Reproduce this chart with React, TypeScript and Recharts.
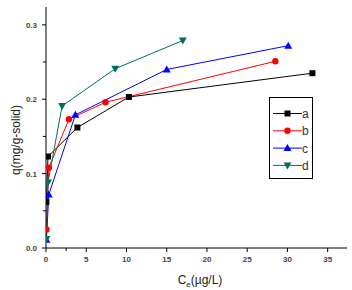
import React from 'react';
import { LineChart, Line, XAxis, YAxis, Label } from 'recharts';

type Pt = { x: number; y: number };

// equilibrium concentration (µg/L) vs uptake q (mg/g-solid)
const seriesA: Pt[] = [
  { x: 0.05, y: 0.062 },
  { x: 0.25, y: 0.123 },
  { x: 3.9, y: 0.162 },
  { x: 10.3, y: 0.203 },
  { x: 33.1, y: 0.235 },
];
const seriesB: Pt[] = [
  { x: 0.05, y: 0.025 },
  { x: 0.35, y: 0.108 },
  { x: 2.85, y: 0.173 },
  { x: 7.4, y: 0.196 },
  { x: 28.5, y: 0.251 },
];
const seriesC: Pt[] = [
  { x: 0.05, y: 0.011 },
  { x: 0.35, y: 0.072 },
  { x: 3.65, y: 0.179 },
  { x: 15.0, y: 0.24 },
  { x: 30.1, y: 0.272 },
];
const seriesD: Pt[] = [
  { x: 0.05, y: 0.012 },
  { x: 0.25, y: 0.088 },
  { x: 2.0, y: 0.191 },
  { x: 8.6, y: 0.241 },
  { x: 17.0, y: 0.279 },
];

const xTicks = [0, 2.5, 5, 7.5, 10, 12.5, 15, 17.5, 20, 22.5, 25, 27.5, 30, 32.5, 35];
const yTicks = [0, 0.05, 0.1, 0.15, 0.2, 0.25, 0.3];

type Kind = 'square' | 'circle' | 'up' | 'down';

const SERIES: { key: string; name: string; data: Pt[]; color: string; kind: Kind }[] = [
  { key: 'a', name: 'a', data: seriesA, color: '#000000', kind: 'square' },
  { key: 'b', name: 'b', data: seriesB, color: '#ff0000', kind: 'circle' },
  { key: 'c', name: 'c', data: seriesC, color: '#0000ff', kind: 'up' },
  { key: 'd', name: 'd', data: seriesD, color: '#00705e', kind: 'down' },
];

const FONT = 'Arial, "Liberation Sans", sans-serif';

const Marker = ({ cx, cy, kind, color }: { cx: number; cy: number; kind: Kind; color: string }) => {
  if (kind === 'square') return <rect x={cx - 3} y={cy - 3} width={6} height={6} fill={color} />;
  if (kind === 'circle') return <circle cx={cx} cy={cy} r={3.2} fill={color} />;
  if (kind === 'up')
    return <polygon points={`${cx},${cy - 4} ${cx - 4},${cy + 3} ${cx + 4},${cy + 3}`} fill={color} />;
  return <polygon points={`${cx},${cy + 4} ${cx - 4},${cy - 3} ${cx + 4},${cy - 3}`} fill={color} />;
};

const tickFont = { fontFamily: FONT, fontSize: 8, fontWeight: 700, fill: '#444' };

// major ticks every 5 with labels, unlabeled minor ticks halfway
const XTick = (props: any) => {
  const { x, y, payload } = props;
  const major = payload.value % 5 === 0;
  return (
    <g>
      <line x1={x} y1={y - 8} x2={x} y2={y - 8 + (major ? 4 : 3)} stroke="#000" />
      {major && (
        <text x={x} y={y + 6} textAnchor="middle" {...tickFont}>
          {payload.value}
        </text>
      )}
    </g>
  );
};

const YTick = (props: any) => {
  const { x, y, payload } = props;
  const major = Math.round(payload.value * 100) % 10 === 0;
  return (
    <g>
      <line x1={x + 8} y1={y} x2={x + 8 - (major ? 4 : 3)} y2={y} stroke="#000" />
      {major && (
        <text x={x - 1} y={y + 3} textAnchor="end" {...tickFont}>
          {payload.value.toFixed(1)}
        </text>
      )}
    </g>
  );
};

const LegendBox = () => (
  <div
    style={{
      position: 'absolute',
      left: 269,
      top: 97,
      border: '1px solid #000',
      width: 44,
      height: 82,
      boxSizing: 'border-box',
      background: '#fff',
    }}
  >
    <svg width={42} height={80} style={{ display: 'block' }}>
      {SERIES.map((s, i) => {
        const cy = 15.5 + i * 17.3;
        return (
          <g key={s.key}>
            <line x1={3} y1={cy} x2={32} y2={cy} stroke={s.color} />
            <Marker cx={17.5} cy={cy} kind={s.kind} color={s.color} />
            <text x={32} y={cy + 4.5} fontFamily={FONT} fontSize={12} fill="#333">
              {s.name}
            </text>
          </g>
        );
      })}
    </svg>
  </div>
);

export default function App() {
  return (
    <div style={{ position: 'absolute', left: 0, top: 0, width: 352, height: 290, background: '#fff' }}>
      <LineChart width={352} height={290} margin={{ top: 7, right: 5, bottom: 0, left: 0 }}>
        <XAxis
          type="number"
          dataKey="x"
          domain={[0, 37.4]}
          ticks={xTicks}
          tick={<XTick />}
          tickLine={false}
          axisLine={{ stroke: '#000' }}
          height={42}
          allowDataOverflow
        >
          <Label
            content={() => (
              <text x={200} y={284} textAnchor="middle" fontFamily={FONT} fontSize={12} fill="#222">
                C
                <tspan fontSize={8} dy={3}>
                  e
                </tspan>
                <tspan dy={-3}>(µg/L)</tspan>
              </text>
            )}
          />
        </XAxis>
        <YAxis
          type="number"
          domain={[0, 0.324]}
          ticks={yTicks}
          tick={<YTick />}
          tickLine={false}
          axisLine={{ stroke: '#000' }}
          width={46}
          allowDataOverflow
        >
          <Label
            content={() => (
              <text
                x={20}
                y={140}
                transform="rotate(-90 20 140)"
                textAnchor="middle"
                fontFamily={FONT}
                fontSize={12}
                fill="#222"
              >
                q(mg/g-solid)
              </text>
            )}
          />
        </YAxis>
        {SERIES.map(s => (
          <Line
            key={s.key}
            data={s.data}
            dataKey="y"
            name={s.name}
            stroke={s.color}
            strokeWidth={1}
            isAnimationActive={false}
            dot={(p: any) => (
              <Marker key={`${s.key}-${p.index}`} cx={p.cx} cy={p.cy} kind={s.kind} color={s.color} />
            )}
            activeDot={false}
          />
        ))}
      </LineChart>
      <LegendBox />
    </div>
  );
}
